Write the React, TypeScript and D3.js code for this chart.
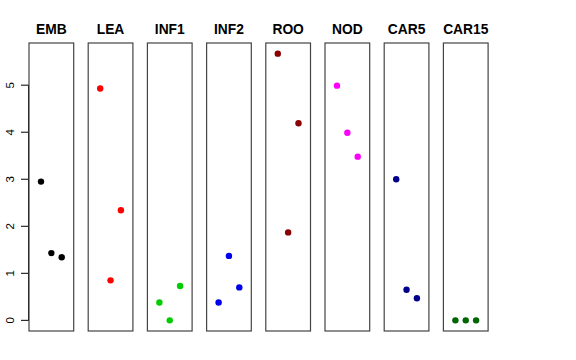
import * as d3 from "d3";

const groups = ["EMB", "LEA", "INF1", "INF2", "ROO", "NOD", "CAR5", "CAR15"];
const colors = ["#000000", "#FF0000", "#00CD00", "#0000EE", "#8B0000", "#FF00FF", "#00008B", "#006400"];
// three replicate values per group
const values = [
  [2.95, 1.43, 1.34],
  [4.93, 0.85, 2.34],
  [0.38, 0.0, 0.73],
  [0.38, 1.37, 0.7],
  [5.67, 1.87, 4.19],
  [4.99, 3.99, 3.48],
  [3.0, 0.65, 0.47],
  [0.0, 0.0, 0.0],
];
const yTicks = [0, 1, 2, 3, 4, 5];

const W = 576;
const H = 360;
const top = 43;
const bottom = 331;
const left0 = 29;
const panelW = 44.7;
const step = 59.2;

export default function App() {
  const yMax = d3.max(values.flat()) ?? 1;
  const pad = yMax * 0.04;
  const y = d3.scaleLinear().domain([-pad, yMax + pad]).range([bottom, top]);
  const x = d3.scaleLinear().domain([-0.16, 4.16]).range([0, panelW]);
  const font = "'Liberation Sans', Arial, Helvetica, sans-serif";

  return (
    <svg width={W} height={H} style={{ position: "absolute", left: 0, top: 0, background: "#fff" }}>
      {/* y axis */}
      <line x1={left0 - 0.5} x2={left0 - 0.5} y1={y(0)} y2={y(5)} stroke="#000" />
      {yTicks.map((t) => (
        <g key={t}>
          <line x1={left0 - 8} x2={left0} y1={y(t)} y2={y(t)} stroke="#000" />
          <text
            transform={`translate(13.5,${y(t)}) rotate(-90)`}
            textAnchor="middle"
            fontFamily={font}
            fontSize={11.5}
          >
            {t}
          </text>
        </g>
      ))}
      {groups.map((g, i) => {
        const x0 = left0 + i * step;
        return (
          <g key={g}>
            <text
              x={x0 + panelW / 2}
              y={34}
              textAnchor="middle"
              fontFamily={font}
              fontWeight="bold"
              fontSize={13.8}
            >
              {g}
            </text>
            <rect
              x={x0}
              y={top}
              width={panelW}
              height={bottom - top}
              fill="none"
              stroke="#444"
              strokeWidth={1.2}
            />
            {values[i].map((v, j) => (
              <circle key={j} cx={x0 + x(j + 1)} cy={y(v)} r={3.2} fill={colors[i]} />
            ))}
          </g>
        );
      })}
    </svg>
  );
}
